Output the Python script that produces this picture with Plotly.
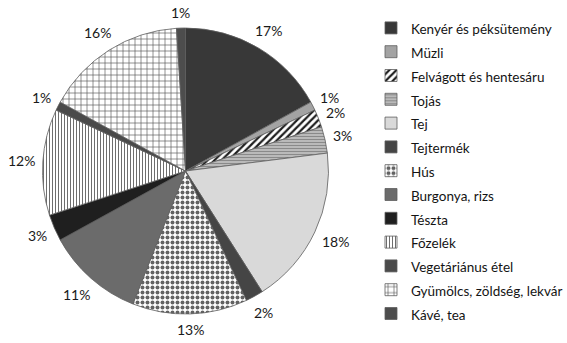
import math
import plotly.graph_objects as go

# Food categories and their share of the total (percent)
labels = [
    "Kenyér és péksütemény", "Müzli", "Felvágott és hentesáru", "Tojás",
    "Tej", "Tejtermék", "Hús", "Burgonya, rizs", "Tészta", "Főzelék",
    "Vegetáriánus étel", "Gyümölcs, zöldség, lekvár", "Kávé, tea",
]
shares = [17, 1, 2, 3, 18, 2, 13, 11, 3, 12, 1, 16, 1]

# Fill style of each slice: background, pattern shape, pattern colour, size, solidity
fills = [
    ("#383838", "", "#383838", 8, 0.3),
    ("#a3a3a3", "", "#a3a3a3", 8, 0.3),
    ("#ffffff", "/", "#1e1e1e", 5, 0.45),
    ("#c4c4c4", "-", "#8a8a8a", 3, 0.45),
    ("#d9d9d9", "", "#d9d9d9", 8, 0.3),
    ("#454545", "", "#454545", 8, 0.3),
    ("#ffffff", ".", "#626262", 5, 0.5),
    ("#6b6b6b", "", "#6b6b6b", 8, 0.3),
    ("#1f1f1f", "", "#1f1f1f", 8, 0.3),
    ("#ffffff", "|", "#6e6e6e", 3, 0.35),
    ("#4a4a4a", "", "#4a4a4a", 8, 0.3),
    ("#ffffff", "+", "#505050", 6, 0.2),
    ("#4d4d4d", "", "#4d4d4d", 8, 0.3),
]

W, H = 567, 343
cx, cy, r = 185.5, 171.0, 143.0
FONT = "Lato, sans-serif"

fig = go.Figure(
    go.Pie(
        labels=[f"<span style='font-size:13.5px'>{t}</span>" for t in labels],
        values=shares,
        sort=False,
        direction="clockwise",
        rotation=0,
        textinfo="none",
        marker=dict(
            colors=[f[0] for f in fills],
            pattern=dict(
                shape=[f[1] for f in fills],
                fgcolor=[f[2] for f in fills],
                bgcolor=[f[0] for f in fills],
                size=[f[3] for f in fills],
                solidity=[f[4] for f in fills],
                fillmode="replace",
            ),
            line=dict(color="#5e5e5e", width=0.8),
        ),
        domain=dict(
            x=[(cx - r) / W, (cx + r) / W],
            y=[(H - cy - r) / H, (H - cy + r) / H],
        ),
        hoverinfo="label+percent",
    )
)

# Percentage labels just outside each slice, at the slice's mid angle
total = sum(shares)
cum = 0.0
placed = []
for v in shares:
    theta = 2 * math.pi * (cum + v / 2) / total  # clockwise from 12 o'clock
    cum += v
    s, c = math.sin(theta), math.cos(theta)
    text = f"{v}%"
    half_w = 4.2 * len(text)
    half_h = 7.0
    dist = r + 8 + abs(s) * half_w + abs(c) * half_h
    placed.append([cx + dist * s, cy - dist * c, text, half_w])

# Spread neighbouring labels apart vertically so they never touch
min_gap = 15.0
for _ in range(10):
    for a, b in zip(placed, placed[1:]):
        if abs(a[0] - b[0]) < a[3] + b[3] and abs(a[1] - b[1]) < min_gap:
            push = (min_gap - abs(a[1] - b[1])) / 2
            if a[1] <= b[1]:
                a[1] -= push
                b[1] += push
            else:
                a[1] += push
                b[1] -= push

for px, py, text, _ in placed:
    fig.add_annotation(
        x=px / W,
        y=1 - py / H,
        xref="paper",
        yref="paper",
        text=text,
        showarrow=False,
        xanchor="center",
        yanchor="middle",
        font=dict(size=14, color="#1a1a1a", family=FONT),
    )

fig.update_layout(
    width=W,
    height=H,
    margin=dict(l=0, r=0, t=0, b=0, autoexpand=False),
    paper_bgcolor="white",
    plot_bgcolor="white",
    showlegend=True,
    legend=dict(
        x=371 / W,
        y=1 - 11 / H,
        xanchor="left",
        yanchor="top",
        font=dict(size=16, color="#141414", family=FONT),
        itemclick=False,
        itemdoubleclick=False,
        bgcolor="rgba(0,0,0,0)",
    ),
)

fig.write_html("out.html")
